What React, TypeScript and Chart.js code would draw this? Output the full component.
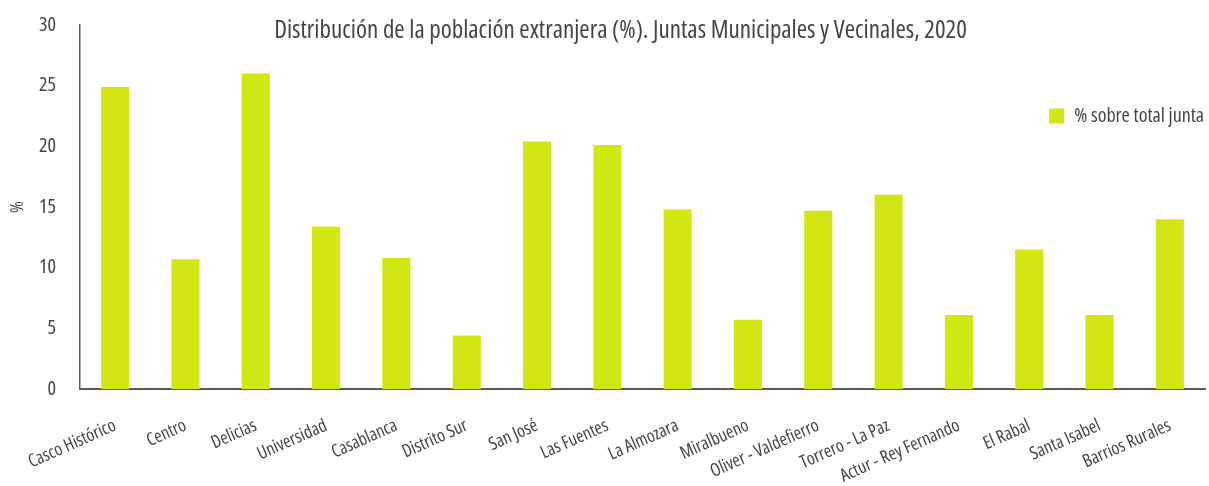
import React, { useEffect, useRef } from 'react';
import { Chart, registerables } from 'chart.js';

Chart.register(...registerables);

const chartTitle = 'Distribución de la población extranjera (%). Juntas Municipales y Vecinales, 2020';
const categories = [
  'Casco Histórico', 'Centro', 'Delicias', 'Universidad', 'Casablanca', 'Distrito Sur',
  'San José', 'Las Fuentes', 'La Almozara', 'Miralbueno', 'Oliver - Valdefierro',
  'Torrero - La Paz', 'Actur - Rey Fernando', 'El Rabal', 'Santa Isabel', 'Barrios Rurales',
];
const seriesLabel = '% sobre total junta';
const values = [24.9, 10.7, 26.0, 13.4, 10.8, 4.4, 20.4, 20.1, 14.8, 5.7, 14.7, 16.0, 6.1, 11.5, 6.1, 14.0];
const yAxisTitle = '%';
const yMin = 0;
const yMax = 30;
const yStep = 5;

const FONT = "'Open Sans', 'Roboto Condensed', sans-serif";
const STRETCH = 'normal condensed';
const TEXT = '#444444';
const AXIS = '#5a5a5a';
const BAR = '#d2e613';

const legendMover = {
  id: 'legendMover',
  afterLayout(chart: any) {
    const lg = chart.legend;
    const ca = chart.chartArea;
    if (!lg || !ca) return;
    lg.left = ca.right - lg.width + 9;
    lg.right = lg.left + lg.width;
    lg.top = ca.top + 71;
    lg.bottom = lg.top + lg.height;
  },
};

export default function App() {
  const ref = useRef<HTMLCanvasElement | null>(null);
  useEffect(() => {
    if (!ref.current) return;
    const chart = new Chart(ref.current, {
      type: 'bar',
      data: {
        labels: categories,
        datasets: [
          {
            label: seriesLabel,
            data: values,
            backgroundColor: BAR,
            borderWidth: 0,
            categoryPercentage: 1,
            barPercentage: 0.4,
          },
        ],
      },
      plugins: [legendMover],
      options: {
        animation: false,
        responsive: true,
        maintainAspectRatio: false,
        layout: { padding: { left: 36, right: 4, top: 0, bottom: 0 } },
        plugins: {
          title: {
            display: true,
            text: chartTitle,
            color: TEXT,
            font: { family: FONT, size: 25, weight: STRETCH, lineHeight: 1.2 },
            padding: { top: 16, bottom: -21 },
          },
          legend: {
            display: true,
            position: 'chartArea',
            fullSize: false,
            align: 'start',
            labels: {
              color: TEXT,
              font: { family: FONT, size: 20, weight: STRETCH },
              boxWidth: 15,
              boxHeight: 15,
              padding: 10,
            },
          },
          tooltip: { enabled: false },
        },
        scales: {
          x: {
            grid: { display: false, drawTicks: false },
            border: { display: true, color: AXIS, width: 2 },
            ticks: {
              color: TEXT,
              font: { family: FONT, size: 18, weight: STRETCH },
              minRotation: 24,
              maxRotation: 24,
              autoSkip: false,
              padding: 26,
            },
            afterFit: (scale: any) => {
              scale.height = 97;
              scale.paddingLeft = 0;
              scale.paddingRight = 0;
            },
          },
          y: {
            min: yMin,
            max: yMax,
            grid: { display: false, drawTicks: false },
            border: { display: true, color: AXIS, width: 1.5 },
            ticks: {
              stepSize: yStep,
              color: TEXT,
              font: { family: FONT, size: 20, weight: STRETCH },
              padding: 24,
            },
            title: {
              display: true,
              text: yAxisTitle,
              color: TEXT,
              font: { family: FONT, size: 18, weight: STRETCH },
              padding: { top: -29, bottom: 0 },
            },
            afterFit: (scale: any) => {
              scale.width = 44;
              scale.paddingTop = 0;
              scale.paddingBottom = 0;
            },
          },
        },
      },
    } as any);
    return () => chart.destroy();
  }, []);
  return (
    <div style={{ position: 'absolute', left: 0, top: 0, width: 1209, height: 486 }}>
      <canvas ref={ref} />
    </div>
  );
}
